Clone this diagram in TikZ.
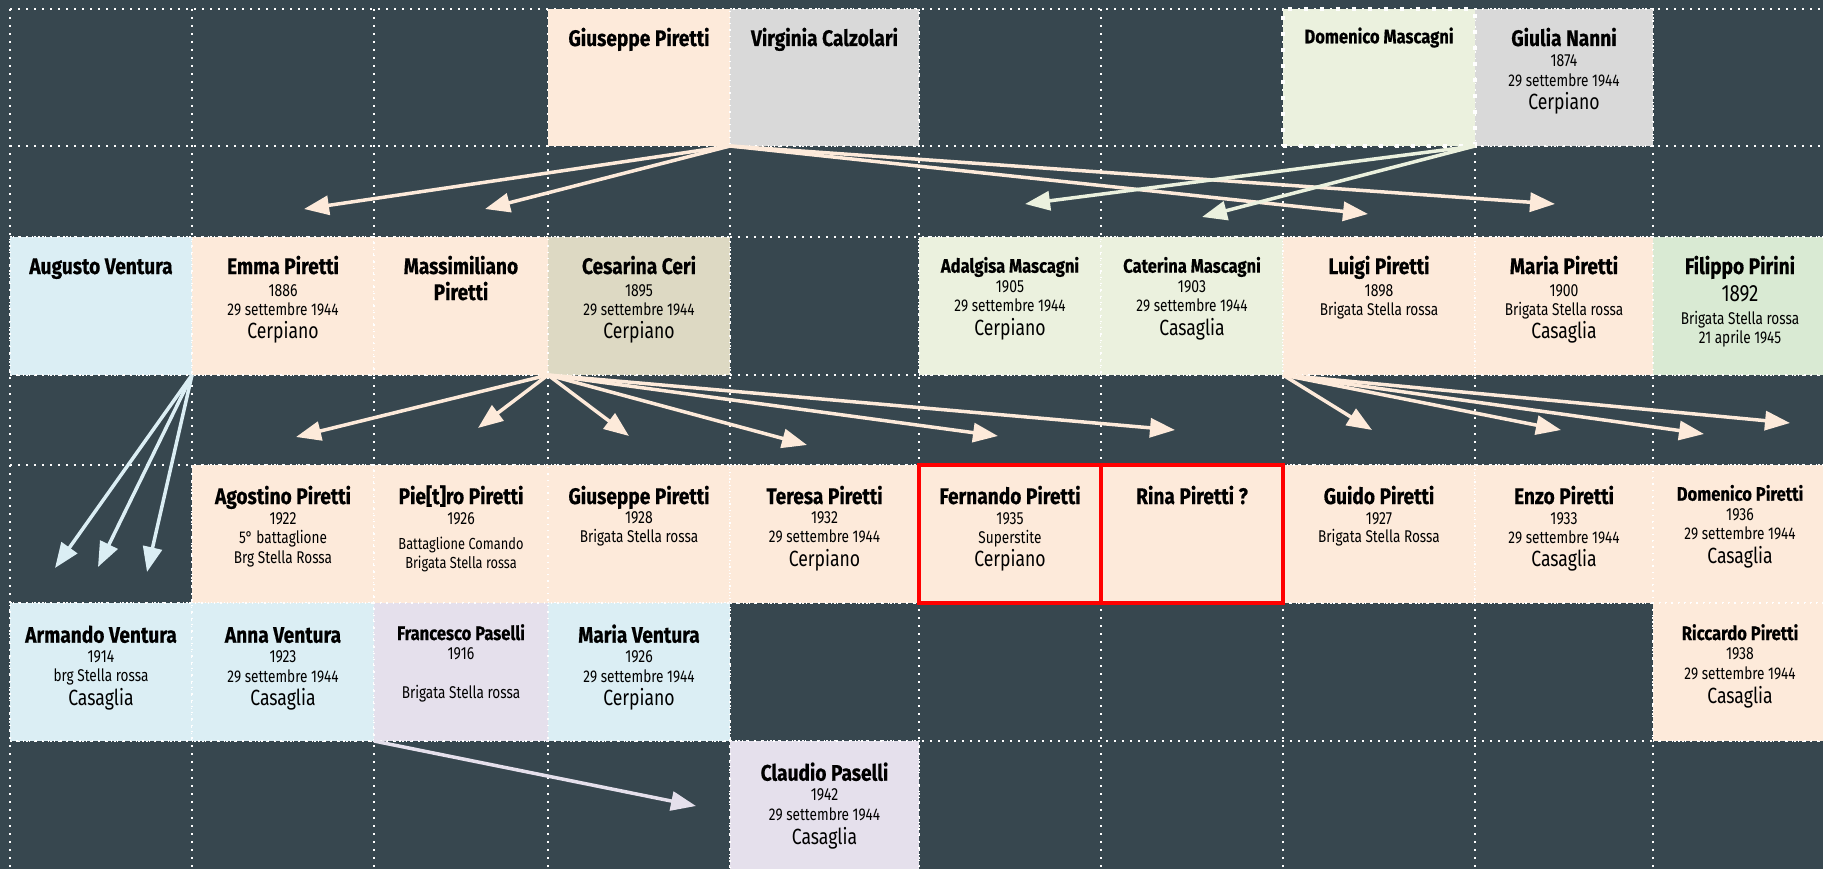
\documentclass[tikz,border=0pt]{standalone}
\usepackage{fontspec}
\setmainfont{Fira Sans}[FakeStretch=0.8]
\newfontfamily\namefont{Fira Sans}[FakeStretch=0.85, FakeBold=0.5]
\usetikzlibrary{arrows.meta}

\definecolor{bg}{HTML}{37474F}
\definecolor{peach}{HTML}{FDEADA}
\definecolor{greyc}{HTML}{D9D9D9}
\definecolor{mgreen}{HTML}{EBF1DE}
\definecolor{fgreen}{HTML}{D9EAD3}
\definecolor{vblue}{HTML}{DBEEF4}
\definecolor{khaki}{HTML}{DDD9C3}
\definecolor{lav}{HTML}{E5E0EC}
\definecolor{redline}{HTML}{FF0000}

\tikzset{
  gridline/.style={white, line width=1.6pt, dash pattern=on 1.6pt off 6.4pt},
  cellstyle/.style={rectangle, inner sep=0pt, outer sep=0pt, draw=white,
    line width=1.3pt, dash pattern=on 1.3pt off 5pt},
  noborder/.style={draw=none},
  bigdash/.style={draw=white, line width=4pt, dash pattern=on 4pt off 12pt},
  redbox/.style={draw=redline, line width=4pt, solid},
  nm/.style={anchor=base, inner sep=0pt, text=black,
    font=\namefont\bfseries\fontsize{22.5}{26}\selectfont},
  snm/.style={anchor=base, inner sep=0pt, text=black,
    font=\namefont\bfseries\fontsize{19.5}{23}\selectfont},
  yr/.style={anchor=base, inner sep=0pt, text=black,
    font=\fontsize{17.5}{20}\selectfont},
  inf/.style={anchor=base, inner sep=0pt, text=black,
    font=\fontsize{17}{20}\selectfont},
  sinf/.style={anchor=base, inner sep=0pt, text=black,
    font=\fontsize{16}{19}\selectfont},
  pl/.style={anchor=base, inner sep=0pt, text=black,
    font=\fontsize{22}{25}\selectfont},
  byr/.style={anchor=base, inner sep=0pt, text=black,
    font=\fontsize{23.5}{27}\selectfont},
  arr/.style={line width=3.5pt, -{Triangle[length=25pt,width=19pt]}},
}

% a family cell given by its corners: name, fill, x0, y0, x1, y1
\newcommand\cellbox[7][]{%
  \node[cellstyle, fill=#3, minimum width={(#6-#4)*1pt},
        minimum height={(#7-#5)*1pt}, #1] (#2) at ({(#4+#6)/2},{(#5+#7)/2}) {};}

\begin{document}
\begin{tikzpicture}[x=1pt,y=-1pt]
\useasboundingbox (0,0) rectangle (1823,869);
\fill[bg] (0,0) rectangle (1823,869);

% dotted layout grid
\foreach \x in {10,192,374,548,730,919,1101,1283,1475,1653}
  \draw[gridline] (\x,9) -- (\x,869);
\foreach \y in {9,146,237,375,465,603,741}
  \draw[gridline] (10,\y) -- (1823,\y);

% ---- generation 1
\cellbox[noborder]{gp}{peach}{548}{9}{730}{146}
\cellbox{vc}{greyc}{730}{9}{919}{146}
\cellbox{gn}{greyc}{1475}{9}{1653}{146}
\cellbox[bigdash]{dm}{mgreen}{1283}{9}{1475}{146}

% ---- generation 2
\cellbox{av}{vblue}{10}{237}{192}{375}
\cellbox{ep}{peach}{192}{237}{374}{375}
\cellbox{mp}{peach}{374}{237}{548}{375}
\cellbox{cc}{khaki}{548}{237}{730}{375}
\cellbox{am}{mgreen}{919}{237}{1101}{375}
\cellbox{cm}{mgreen}{1101}{237}{1283}{375}
\cellbox{lp}{peach}{1283}{237}{1475}{375}
\cellbox{mrp}{peach}{1475}{237}{1653}{375}
\cellbox{fp}{fgreen}{1653}{237}{1830}{375}

% ---- generation 3
\cellbox{ag}{peach}{192}{465}{374}{603}
\cellbox{pi}{peach}{374}{465}{548}{603}
\cellbox{gpb}{peach}{548}{465}{730}{603}
\cellbox{tp}{peach}{730}{465}{919}{603}
\cellbox{gu}{peach}{1283}{465}{1475}{603}
\cellbox{en}{peach}{1475}{465}{1653}{603}
\cellbox{dp}{peach}{1653}{465}{1830}{603}
\cellbox[redbox]{fe}{peach}{919}{465}{1101}{603}
\cellbox[redbox]{rp}{peach}{1101}{465}{1283}{603}

\cellbox{ar}{vblue}{10}{603}{192}{741}
\cellbox{an}{vblue}{192}{603}{374}{741}
\cellbox{fr}{lav}{374}{603}{548}{741}
\cellbox{mv}{vblue}{548}{603}{730}{741}
\cellbox{rc}{peach}{1653}{603}{1830}{741}

% ---- generation 4
\cellbox{cl}{lav}{730}{741}{919}{880}

% ---- arrow end points
\coordinate (t1) at (304,209);
\coordinate (t2) at (485,209);
\coordinate (t3) at (1368,214);
\coordinate (t4) at (1555,204);
\coordinate (g1) at (1025,204);
\coordinate (g2) at (1202,217);
\coordinate (c1) at (296,437);
\coordinate (c2) at (478,428);
\coordinate (c3) at (629,436);
\coordinate (c4) at (807,445);
\coordinate (c5) at (998,436);
\coordinate (c6) at (1175,430);
\coordinate (l1) at (1372,430);
\coordinate (l2) at (1561,430);
\coordinate (l3) at (1704,434);
\coordinate (l4) at (1790,423);
\coordinate (v1) at (55,568);
\coordinate (v2) at (98,567);
\coordinate (v3) at (147,572);
\coordinate (p1) at (696,806);

% ---- descent arrows
\foreach \t in {t1,t2,t3,t4}
  \draw[arr, peach] (gp.south east) -- (\t);
\foreach \t in {g1,g2}
  \draw[arr, mgreen] (dm.south east) -- (\t);
\foreach \t in {c1,c2,c3,c4,c5,c6}
  \draw[arr, peach] (cc.south west) -- (\t);
\foreach \t in {l1,l2,l3,l4}
  \draw[arr, peach] (lp.south west) -- (\t);
\foreach \t in {v1,v2,v3}
  \draw[arr, vblue] (av.south east) -- (\t);
\draw[arr, lav] (fr.south west) -- (p1);

% ---- texts, generation 1
\node[nm] (gp-n) at (639,46) {Giuseppe Piretti};
\node[nm] (vc-n) at (824.5,46) {Virginia Calzolari};
\node[snm] (dm-n) at (1379,43.3) {Domenico Mascagni};
\node[nm] (gn-n) at (1564,46) {Giulia Nanni};
\node[yr] (gn-y) at (1564,66.7) {1874};
\node[inf] (gn-d) at (1564,86.7) {29 settembre 1944};
\node[pl] (gn-p) at (1564,110) {Cerpiano};

% ---- texts, generation 2
\node[nm] (av-n) at (101,274) {Augusto Ventura};

\node[nm] (ep-n) at (283,274) {Emma Piretti};
\node[yr] (ep-y) at (283,296) {1886};
\node[inf] (ep-d) at (283,315) {29 settembre 1944};
\node[pl] (ep-p) at (283,338) {Cerpiano};

\node[nm] (mp-n) at (461,274) {Massimiliano};
\node[nm] (mp-m) at (461,300) {Piretti};

\node[nm] (cc-n) at (639,274) {Cesarina Ceri};
\node[yr] (cc-y) at (639,296) {1895};
\node[inf] (cc-d) at (639,315) {29 settembre 1944};
\node[pl] (cc-p) at (639,338) {Cerpiano};

\node[snm] (am-n) at (1010,272.7) {Adalgisa Mascagni};
\node[yr] (am-y) at (1010,292.7) {1905};
\node[inf] (am-d) at (1010,311.7) {29 settembre 1944};
\node[pl] (am-p) at (1010,335) {Cerpiano};

\node[snm] (cm-n) at (1192,272.7) {Caterina Mascagni};
\node[yr] (cm-y) at (1192,292.7) {1903};
\node[inf] (cm-d) at (1192,311.7) {29 settembre 1944};
\node[pl] (cm-p) at (1192,335) {Casaglia};

\node[nm] (lp-n) at (1379,274) {Luigi Piretti};
\node[yr] (lp-y) at (1379,296) {1898};
\node[inf] (lp-d) at (1379,315) {Brigata Stella rossa};

\node[nm] (mrp-n) at (1564,274) {Maria Piretti};
\node[yr] (mrp-y) at (1564,296) {1900};
\node[inf] (mrp-d) at (1564,315) {Brigata Stella rossa};
\node[pl] (mrp-p) at (1564,338) {Casaglia};

\node[nm] (fp-n) at (1740,274) {Filippo Pirini};
\node[byr] (fp-y) at (1740,301.7) {1892};
\node[inf] (fp-d) at (1740,324) {Brigata Stella rossa};
\node[inf] (fp-e) at (1740,343) {21 aprile 1945};

% ---- texts, generation 3
\node[nm] (ag-n) at (283,504) {Agostino Piretti};
\node[yr] (ag-y) at (283,524) {1922};
\node[inf] (ag-d) at (283,543.3) {5° battaglione};
\node[inf] (ag-e) at (283,563.3) {Brg Stella Rossa};

\node[nm] (pi-n) at (461,504) {Pie[t]ro Piretti};
\node[yr] (pi-y) at (461,524) {1926};
\node[sinf] (pi-d) at (461,549.3) {Battaglione Comando};
\node[sinf] (pi-e) at (461,568) {Brigata Stella rossa};

\node[nm] (gpb-n) at (639,504) {Giuseppe Piretti};
\node[yr] (gpb-y) at (639,523) {1928};
\node[inf] (gpb-d) at (639,542.7) {Brigata Stella rossa};

\node[nm] (tp-n) at (824.5,504) {Teresa Piretti};
\node[yr] (tp-y) at (824.5,523) {1932};
\node[inf] (tp-d) at (824.5,542.7) {29 settembre 1944};
\node[pl] (tp-p) at (824.5,566.7) {Cerpiano};

\node[nm] (fe-n) at (1010,504) {Fernando Piretti};
\node[yr] (fe-y) at (1010,524) {1935};
\node[inf] (fe-d) at (1010,543) {Superstite};
\node[pl] (fe-p) at (1010,566.7) {Cerpiano};

\node[nm] (rp-n) at (1192,504) {Rina Piretti ?};

\node[nm] (gu-n) at (1379,504) {Guido Piretti};
\node[yr] (gu-y) at (1379,524) {1927};
\node[inf] (gu-d) at (1379,542.7) {Brigata Stella Rossa};

\node[nm] (en-n) at (1564,504) {Enzo Piretti};
\node[yr] (en-y) at (1564,524) {1933};
\node[inf] (en-d) at (1564,543) {29 settembre 1944};
\node[pl] (en-p) at (1564,566.7) {Casaglia};

\node[snm] (dp-n) at (1740,500.7) {Domenico Piretti};
\node[yr] (dp-y) at (1740,520.7) {1936};
\node[inf] (dp-d) at (1740,539.3) {29 settembre 1944};
\node[pl] (dp-p) at (1740,563.3) {Casaglia};

\node[nm] (ar-n) at (101,642.7) {Armando Ventura};
\node[yr] (ar-y) at (101,662.7) {1914};
\node[inf] (ar-d) at (101,681.7) {brg Stella rossa};
\node[pl] (ar-p) at (101,705) {Casaglia};

\node[nm] (an-n) at (283,642.7) {Anna Ventura};
\node[yr] (an-y) at (283,662.7) {1923};
\node[inf] (an-d) at (283,682) {29 settembre 1944};
\node[pl] (an-p) at (283,705) {Casaglia};

\node[snm] (fr-n) at (461,640) {Francesco Paselli};
\node[yr] (fr-y) at (461,659.3) {1916};
\node[inf] (fr-d) at (461,698.3) {Brigata Stella rossa};

\node[nm] (mv-n) at (639,642.7) {Maria Ventura};
\node[yr] (mv-y) at (639,662.7) {1926};
\node[inf] (mv-d) at (639,682.7) {29 settembre 1944};
\node[pl] (mv-p) at (639,705) {Cerpiano};

\node[snm] (rc-n) at (1740,640) {Riccardo Piretti};
\node[yr] (rc-y) at (1740,659.3) {1938};
\node[inf] (rc-d) at (1740,679.3) {29 settembre 1944};
\node[pl] (rc-p) at (1740,703.3) {Casaglia};

% ---- texts, generation 4
\node[nm] (cl-n) at (824.5,780.7) {Claudio Paselli};
\node[yr] (cl-y) at (824.5,800.7) {1942};
\node[inf] (cl-d) at (824.5,820) {29 settembre 1944};
\node[pl] (cl-p) at (824.5,844) {Casaglia};
\end{tikzpicture}
\end{document}
